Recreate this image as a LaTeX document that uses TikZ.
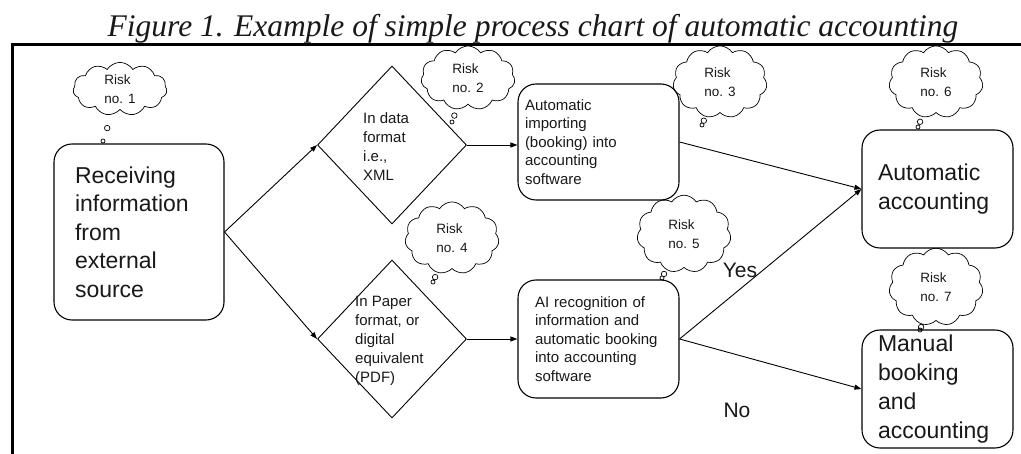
\documentclass[tikz,border=0pt]{standalone}
\usepackage{fontspec}
\setmainfont{Liberation Sans}
\newfontfamily\titlefont{Liberation Serif}
\usetikzlibrary{shapes.geometric,shapes.callouts,shapes.symbols,arrows.meta}

\begin{document}
\begin{tikzpicture}[x=1pt,y=-1pt,
  every node/.style={text=black!90},
  box/.style={draw, line width=1.1pt, rounded corners=18pt, align=left,
    inner ysep=0pt, minimum width=#1},
  bigtext/.style={font=\fontsize{23}{28.5}\selectfont},
  smalltext/.style={font=\fontsize{15}{18.5}\selectfont},
  decision/.style={draw, line width=0.9pt, diamond, inner sep=0pt,
    minimum width=149pt, minimum height=158pt},
  dtext/.style={smalltext, align=left, inner sep=0pt, anchor=west, font=\fontsize{15}{19}\selectfont},
  risk/.style={draw, line width=0.7pt, cloud callout, cloud puffs=11,
    cloud puff arc=115, cloud ignores aspect, inner xsep=4pt, inner ysep=#1, align=left,
    minimum width=94pt,
    font=\fontsize{13.5}{19}\selectfont,
    callout pointer start size=7pt, callout pointer end size=4pt,
    callout pointer segments=2},
  risk/.default=9pt,
  flow/.style={-{Triangle[length=7pt,width=5pt]}, line width=0.9pt},
  lab/.style={font=\fontsize{21}{24}\selectfont, inner sep=0pt}
]
\useasboundingbox[fill=white] (0,0) rectangle (1021,454);

% caption and frame
\node[font=\titlefont\itshape\fontsize{31.5}{34}\selectfont, anchor=base, inner sep=0pt]
  (title) at (533,37) {Figure 1. Example of simple process chart of automatic accounting};
\draw[line width=3pt] (12.5,454) -- (12.5,45) -- (1021,45);

% process boxes
\node[box=170pt, bigtext, minimum height=176pt, inner xsep=21pt, text width=128pt]
  (recv) at (139,232) {Receiving\\information\\from\\external\\source};
\node[box=161pt, smalltext, minimum height=116pt, inner xsep=7pt, text width=147pt]
  (imp) at (598.5,142) {Automatic\\importing\\(booking) into\\accounting\\software};
\node[box=161pt, smalltext, minimum height=118pt, inner xsep=17pt, text width=127pt]
  (ai) at (598.5,339) {AI recognition of\\information and\\automatic booking\\into accounting\\software};
\node[box=151pt, bigtext, minimum height=118pt, inner xsep=16pt, text width=119pt]
  (auto) at (937.5,189) {Automatic\\accounting};
\node[box=151pt, font=\fontsize{23}{29}\selectfont, minimum height=118pt, inner xsep=16pt, text width=119pt]
  (man) at (937.5,389) {Manual\\booking\\and\\accounting};

% decisions
\node[decision] (d1) at (392,145) {};
\node[dtext] (d1t) at (363,147) {In data\\format\\i.e.,\\XML};
\node[decision] (d2) at (392,339) {};
\node[dtext] (d2t) at (355,341) {In Paper\\format, or\\digital\\equivalent\\(PDF)};

% risks
\node[risk=2pt, callout absolute pointer={(103,141)}] (r1) at (120,89) {Risk\\no. 1};
\node[risk=6pt, callout absolute pointer={(452,122)}] (r2) at (468,78) {Risk\\no. 2};
\node[risk, callout absolute pointer={(702,125)}] (r3) at (720,82) {Risk\\no. 3};
\node[risk, callout absolute pointer={(433,282)}] (r4) at (452,238) {Risk\\no. 4};
\node[risk=11pt, callout absolute pointer={(662,278)}] (r5) at (684,234) {Risk\\no. 5};
\node[risk, callout absolute pointer={(918,127)}] (r6) at (936,82) {Risk\\no. 6};
\node[risk=11pt, callout absolute pointer={(920,330)}] (r7) at (936,287) {Risk\\no. 7};

% flow
\draw[flow] (recv.east) -- (d1.west);
\draw[flow] (recv.east) -- (d2.west);
\draw[flow] (d1.east) -- (d1.east -| imp.west);
\draw[flow] (d2.east) -- (ai.west);
\draw[flow] (imp.east) -- (auto.west);
\draw[flow] (ai.east) -- (auto.west);
\draw[flow] (ai.east) -- (man.west);

\node[lab] (yes) at (740,270) {Yes};
\node[lab] (no) at (737,410) {No};
\end{tikzpicture}
\end{document}
